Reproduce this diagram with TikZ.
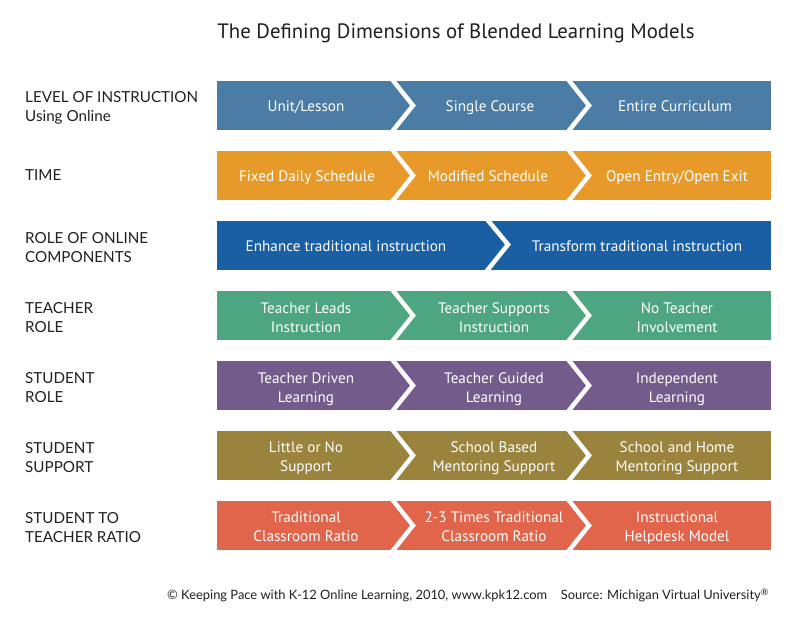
\documentclass[tikz,border=0pt]{standalone}
\usepackage{fontspec}
\setmainfont{PT Sans}
\newfontfamily\gill{Lato}
\definecolor{cA}{HTML}{4A7CA6}
\definecolor{cB}{HTML}{E79A2A}
\definecolor{cC}{HTML}{1A5FA3}
\definecolor{cD}{HTML}{4DA680}
\definecolor{cE}{HTML}{735B8B}
\definecolor{cF}{HTML}{9A833C}
\definecolor{cG}{HTML}{E0654B}
\definecolor{txt}{HTML}{231F20}
\newcommand\twoln[2]{\strut #1\\\strut #2}
\begin{document}
\begin{tikzpicture}[x=1pt,y=-1pt,
  segtext/.style={text=white,font=\fontsize{15.2}{19}\selectfont,align=center,inner sep=0pt},
  seg1/.style={segtext,text height=11pt,text depth=0pt},
  lab/.style={anchor=west,align=left,text=txt,font=\gill\fontsize{15.2}{19}\selectfont,inner sep=0pt},
  foot/.style={text=txt,font=\gill\fontsize{12.9}{15}\selectfont,inner sep=0pt},
  cut/.style={white,line width=4.5pt,line join=miter,miter limit=10}]
\useasboundingbox[fill=white] (0,0) rectangle (800,632);
\node[anchor=base,text=txt,font=\fontsize{20.8}{24}\selectfont,inner sep=0pt] (title) at (456,38.5) {The Defining Dimensions of Blended Learning Models};
% bars
\foreach \c [count=\i] in {cA,cB,cC,cD,cE,cF,cG}{
  \pgfmathsetmacro\t{81+70*(\i-1)}
  \fill[\c] (217,\t) rectangle (771,\t+49);
}
% chevron cuts
\foreach \i in {1,2,4,5,6,7}{
  \pgfmathsetmacro\t{81+70*(\i-1)}
  \draw[cut] (391,\t-3) -- (413,\t+24.5) -- (391,\t+52);
  \draw[cut] (567,\t-3) -- (589,\t+24.5) -- (567,\t+52);
}
\draw[cut] (486,218) -- (508,244.5) -- (486,272);
% labels
\node[lab] (l1) at (25,108) {LEVEL OF INSTRUCTION\\Using Online};
\node[lab] (l2) at (25,175) {TIME};
\node[lab] (l3) at (25,247.5) {ROLE OF ONLINE\\COMPONENTS};
\node[lab] (l4) at (25,317.5) {TEACHER\\ROLE};
\node[lab] (l5) at (25,387.5) {STUDENT\\ROLE};
\node[lab] (l6) at (25,457.5) {STUDENT\\SUPPORT};
\node[lab] (l7) at (25,527.5) {STUDENT TO\\TEACHER RATIO};
% segment texts
\node[seg1] (a1) at (306,106) {Unit/Lesson};
\node[seg1] (a2) at (490,106) {Single Course};
\node[seg1] (a3) at (675,106) {Entire Curriculum};
\node[seg1] (b1) at (307,176) {Fixed Daily Schedule};
\node[seg1] (b2) at (488,176) {Modified Schedule};
\node[seg1] (b3) at (677,176) {Open Entry/Open Exit};
\node[seg1] (c1) at (346,246) {Enhance traditional instruction};
\node[seg1] (c2) at (637,246) {Transform traditional instruction};
\node[segtext] (d1) at (306,319.5) {\twoln{Teacher Leads}{Instruction}};
\node[segtext] (d2) at (494,319.5) {\twoln{Teacher Supports}{Instruction}};
\node[segtext] (d3) at (677,319.5) {\twoln{No Teacher}{Involvement}};
\node[segtext] (e1) at (306,389.5) {\twoln{Teacher Driven}{Learning}};
\node[segtext] (e2) at (494,389.5) {\twoln{Teacher Guided}{Learning}};
\node[segtext] (e3) at (677,389.5) {\twoln{Independent}{Learning}};
\node[segtext] (f1) at (306,458.5) {\twoln{Little or No}{Support}};
\node[segtext] (f2) at (494,458.5) {\twoln{School Based}{Mentoring Support}};
\node[segtext] (f3) at (677,458.5) {\twoln{School and Home}{Mentoring Support}};
\node[segtext] (g1) at (306,528.5) {\twoln{Traditional}{Classroom Ratio}};
\node[segtext] (g2) at (494,528.5) {\twoln{2-3 Times Traditional}{Classroom Ratio}};
\node[segtext] (g3) at (677,528.5) {\twoln{Instructional}{Helpdesk Model}};
% footer
\node[foot,anchor=base west] (f) at (167,599.5) {\textcopyright{} Keeping Pace with K-12 Online Learning, 2010, www.kpk12.com};
\node[foot,anchor=base east] (s) at (769,599.5) {Source: Michigan Virtual University\textsuperscript{\textregistered}};
\end{tikzpicture}
\end{document}
